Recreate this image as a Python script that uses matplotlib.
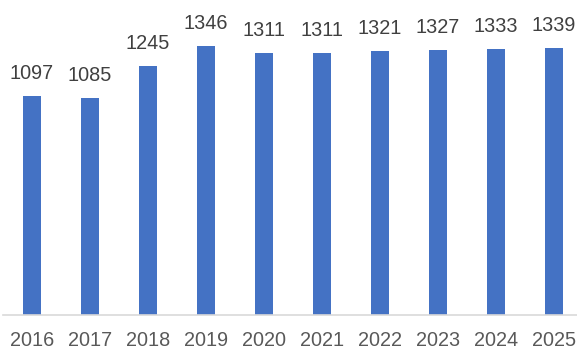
import matplotlib
matplotlib.use("Agg")
import matplotlib.pyplot as plt

years = ["2016", "2017", "2018", "2019", "2020", "2021", "2022", "2023", "2024", "2025"]
values = [1097, 1085, 1245, 1346, 1311, 1311, 1321, 1327, 1333, 1339]

BAR_COLOR = "#4472C4"
LABEL_COLOR = "#404040"
TICK_COLOR = "#595959"
FONT = ["Liberation Sans", "DejaVu Sans"]

fig = plt.figure(figsize=(5.77, 3.60), dpi=100)
ax = fig.add_axes([3 / 577, 45 / 360, 574 / 577, 315 / 360])

x = range(len(years))
bars = ax.bar(x, values, width=0.31, color=BAR_COLOR, zorder=2)

for bar, v in zip(bars, values):
    ax.annotate(str(v), (bar.get_x() + bar.get_width() / 2, v),
                xytext=(0, 9.5), textcoords="offset points",
                ha="center", va="bottom", fontsize=14.3,
                color=LABEL_COLOR, family=FONT)

ax.set_xlim(-0.5, 9.4)
ax.set_ylim(0, 1578)
ax.set_xticks(list(x))
ax.set_xticklabels(years, fontsize=14.3, color=TICK_COLOR, family=FONT)
ax.tick_params(axis="x", length=0, pad=11.5)
ax.set_yticks([])

for side in ["top", "right", "left"]:
    ax.spines[side].set_visible(False)
ax.spines["bottom"].set_color("#D9D9D9")
ax.spines["bottom"].set_linewidth(1.2)

fig.savefig("out.png", dpi=100)
